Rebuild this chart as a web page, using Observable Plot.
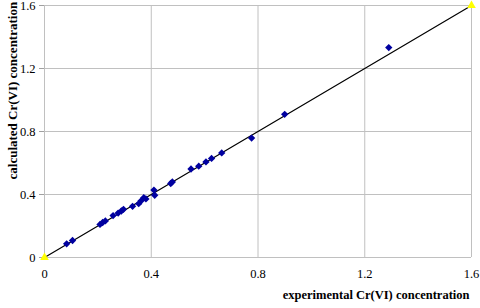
<!DOCTYPE html>
<html>
<head>
<meta charset="utf-8">
<script src="https://cdn.jsdelivr.net/npm/d3@7"></script>
<script src="https://cdn.jsdelivr.net/npm/@observablehq/plot@0.6"></script>
<style>
  html, body { margin: 0; padding: 0; background: #fff; }
  #chart svg { display: block; font-family: "Liberation Serif", "Times New Roman", serif !important; }
  #chart svg text { font-family: "Liberation Serif", "Times New Roman", serif !important; }
</style>
</head>
<body>
<div id="chart"></div>
<script>
// experimental vs calculated Cr(VI) concentration
const experimental = [0.083, 0.105, 0.208, 0.218, 0.228, 0.257, 0.276, 0.288, 0.296, 0.33, 0.353, 0.362, 0.372, 0.38, 0.41, 0.413, 0.473, 0.479, 0.549, 0.578, 0.605, 0.626, 0.664, 0.776, 0.9, 1.29];
const calculated   = [0.087, 0.108, 0.21, 0.222, 0.232, 0.266, 0.282, 0.295, 0.306, 0.325, 0.342, 0.36, 0.38, 0.372, 0.428, 0.395, 0.47, 0.48, 0.562, 0.58, 0.607, 0.629, 0.664, 0.758, 0.909, 1.333];
// reference (1:1) line end points
const refX = [0, 1.6];
const refY = [0, 1.6];
const tickValues = [0, 0.4, 0.8, 1.2, 1.6];
const tickLabels = ["0", "0.4", "0.8", "1.2", "1.6"];
const xTitle = "experimental Cr(VI) concentration";
const yTitle = "calculated Cr(VI) concentration";

const points = experimental.map((x, i) => ({x, y: calculated[i]}));
const ref = refX.map((x, i) => ({x, y: refY[i]}));
const fmt = d => tickLabels[tickValues.indexOf(d)];

const chart = Plot.plot({
  width: 480,
  height: 308,
  marginLeft: 44,
  marginRight: 9,
  marginTop: 5,
  marginBottom: 51,
  style: "font-family: 'Liberation Serif', 'Times New Roman', serif; font-size: 12px; color: #000; background: #fff;",
  x: {domain: [0, 1.6]},
  y: {domain: [0, 1.6]},
  marks: [
    Plot.gridX(tickValues, {stroke: "#c0c0c0", strokeOpacity: 1}),
    Plot.gridY(tickValues, {stroke: "#c0c0c0", strokeOpacity: 1}),
    Plot.axisY(tickValues, {tickFormat: fmt, tickSize: 5, tickPadding: 4, stroke: "#a0a0a0", fill: "#000", label: null, fontSize: 12.5}),
    Plot.axisX(tickValues, {tickFormat: fmt, tickSize: 0, tickPadding: 12, fill: "#000", label: null, fontSize: 12.5}),
    Plot.line(ref, {x: "x", y: "y", stroke: "#000", strokeWidth: 1.2}),
    Plot.dot(points, {x: "x", y: "y", symbol: "diamond2", r: 3.3, fill: "#0000a0", stroke: "none"}),
    Plot.dot(ref, {x: "x", y: "y", symbol: "triangle", r: 3.2, fill: "#ffff00", stroke: "none"}),
    Plot.text([xTitle], {frameAnchor: "bottom-right", dx: -2, dy: 41, textAnchor: "end", fontWeight: "bold", fontSize: 12.5, fill: "#000"}),
    Plot.text([yTitle], {frameAnchor: "top-left", dx: -37, dy: 174, rotate: -90, textAnchor: "start", fontWeight: "bold", fontSize: 13, fill: "#000"})
  ]
});
document.getElementById("chart").appendChild(chart);
</script>
</body>
</html>
